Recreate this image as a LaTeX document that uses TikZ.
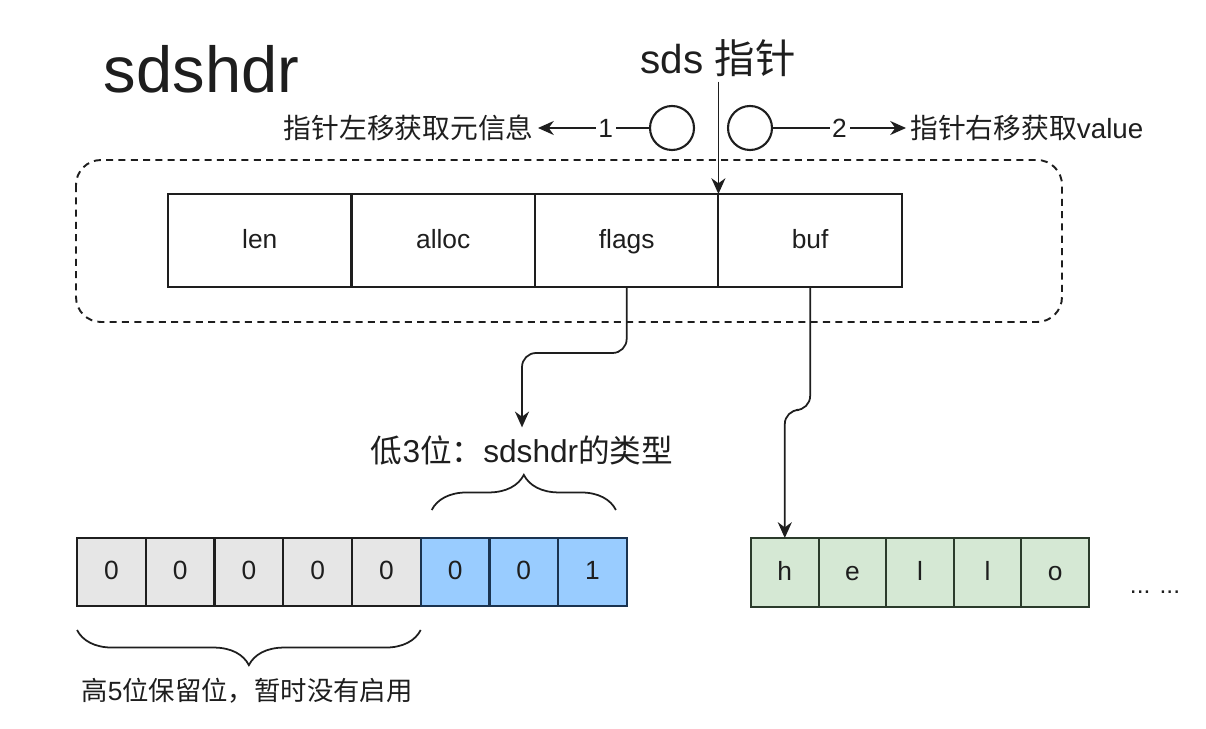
\documentclass[tikz,border=0pt]{standalone}
\usepackage{fontspec}
\setmainfont{Liberation Sans}
\newfontfamily\zhfont{Noto Sans CJK SC}
\newcommand{\zh}[1]{{\zhfont #1}}
\usetikzlibrary{arrows.meta,positioning,decorations.pathreplacing}
\definecolor{ink}{HTML}{1E1E1E}
\definecolor{bitgray}{HTML}{E6E6E6}
\definecolor{bitblue}{HTML}{99CCFF}
\definecolor{bitblueline}{HTML}{1A3350}
\definecolor{chargreen}{HTML}{D5E8D4}
\definecolor{chargreenline}{HTML}{2B3B2B}
\tikzset{
  every picture/.style={line width=1pt, x=0.02cm, y=-0.02cm, color=ink},
  cellfont/.style={font=\fontsize{15}{18}\selectfont, text height=1.1em, text depth=0.2em},
  field/.style={draw, line width=1.2pt, cellfont, inner sep=0pt, outer sep=0pt,
                minimum width=3.67cm, minimum height=1.86cm},
  bitcell/.style={draw=ink, line width=1.2pt, fill=bitgray, cellfont, inner sep=0pt,
                  outer sep=0pt, minimum width=1.375cm, minimum height=1.36cm},
  typebit/.style={bitcell, draw=bitblueline, fill=bitblue},
  charcell/.style={draw=chargreenline, line width=1.2pt, fill=chargreen, cellfont,
                   inner sep=0pt, outer sep=0pt, minimum width=1.352cm, minimum height=1.38cm},
  hole/.style={circle, draw, line width=1.2pt, minimum size=0.88cm, inner sep=0pt},
  hdrbox/.style={dashed, line width=1.1pt, dash pattern=on 4pt off 3pt, rounded corners=0.5cm},
  link/.style={line width=1pt, -{Stealth[length=9pt,width=8pt]}},
  movelbl/.style={fill=white, inner sep=1.5pt, font=\fontsize{15}{18}\selectfont},
  hint/.style={font=\fontsize{15.8}{19}\selectfont, inner sep=2pt},
  note/.style={font=\fontsize{18}{21}\selectfont, inner sep=2pt},
  bracemark/.style={decorate, line width=1pt, decoration={brace, amplitude=20pt, raise=#1}},
}

\begin{document}
\begin{tikzpicture}
\useasboundingbox (0,0) rectangle (1206,729);
% title and pointer
\node[anchor=base west, inner sep=0pt, font=\fontsize{37}{40}\selectfont] (title) at (103,93) {sdshdr};
\node[anchor=base, font=\fontsize{23}{26}\selectfont, inner sep=2pt] (ptr) at (718,74) {sds \zh{指针}};
\node[hole] (lc) at (672,128) {};
\node[hole] (rc) at (750,128) {};
\node[hint, anchor=east] (leftmsg) at (538,128) {\zh{指针左移获取元信息}};
\node[hint, anchor=west] (rightmsg) at (906,128) {\zh{指针右移获取}value};
\draw[link] (lc) -- node[movelbl, pos=0.39] {1} (leftmsg);
\draw[link] (rc) -- node[movelbl, pos=0.5] {2} (rightmsg);

% header struct
\draw[hdrbox] (76,160) rectangle (1062,322);
\node[field] (len) at (259.75,240.5) {len};
\node[field, right=0pt of len] (alloc) {alloc};
\node[field, right=0pt of alloc] (flags) {flags};
\node[field, right=0pt of flags] (buf) {buf};
\draw[link] (ptr.south -| flags.north east) -- (flags.north east);

% flags byte
\node[bitcell] (b1) at (111.4,572) {0};
\node[bitcell, right=0pt of b1] (b2) {0};
\node[bitcell, right=0pt of b2] (b3) {0};
\node[bitcell, right=0pt of b3] (b4) {0};
\node[bitcell, right=0pt of b4] (b5) {0};
\node[typebit, right=0pt of b5] (b6) {0};
\node[typebit, right=0pt of b6] (b7) {0};
\node[typebit, right=0pt of b7] (b8) {1};
\draw[bracemark=0.56cm] ([xshift=0.22cm]b6.north west) -- ([xshift=-0.22cm]b8.north east);
\draw[bracemark=0.48cm] (b5.south east) -- (b1.south west);
\node[note] (typelbl) at (522,450) {\zh{低}3\zh{位：}sdshdr\zh{的类型}};
\node[note, font=\fontsize{15}{18}\selectfont] (reserved) at (247,691) {\zh{高}5\zh{位保留位，暂时没有启用}};
\draw[link, rounded corners=8pt] (flags.south) -- ++(0,66) -| ([yshift=2pt]typelbl.north);

% buffer
\node[charcell] (h) at (784.8,572.5) {h};
\node[charcell, right=0pt of h] (e) {e};
\node[charcell, right=0pt of e] (l1) {l};
\node[charcell, right=0pt of l1] (l2) {l};
\node[charcell, right=0pt of l2] (o) {o};
\node[font=\fontsize{14}{16}\selectfont] (more) at (1155,592) {... ...};
\draw[link, rounded corners=8pt] (buf.south) -- ++(0,123) -| (h.north);
\end{tikzpicture}
\end{document}
